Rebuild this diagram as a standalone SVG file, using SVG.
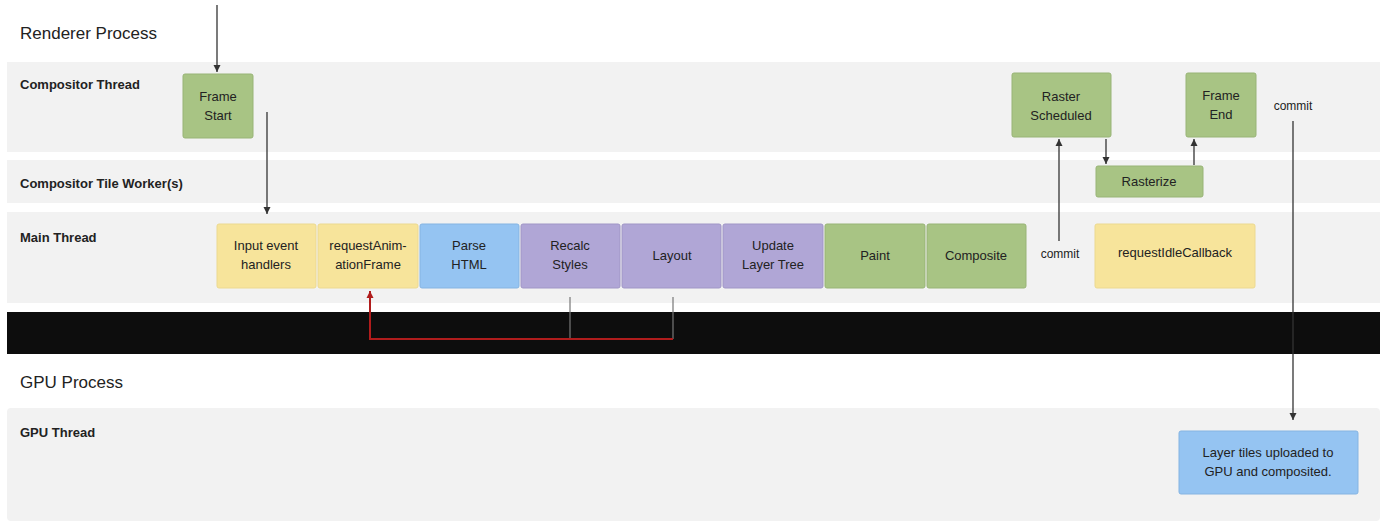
<svg xmlns="http://www.w3.org/2000/svg" width="1386" height="526" viewBox="0 0 1386 526">
<style>
text{font-family:"Liberation Sans",Arial,sans-serif;fill:#222}
.band{fill:#f2f2f2}
.lbl{font-size:13px;font-weight:bold}
.t{font-size:13px;text-anchor:middle}
.g{fill:#a8c484;stroke:#98b476}
.y{fill:#f7e49b;stroke:#ecd990}
.b{fill:#95c4f2;stroke:#85b4e2}
.p{fill:#b0a6d6;stroke:#a096c6}
.c{stroke:#333;stroke-width:1.3;fill:none}
</style>
<defs>
<marker id="a" viewBox="0 0 10 10" refX="10" refY="5" markerWidth="7" markerHeight="10" markerUnits="userSpaceOnUse" orient="auto"><path d="M0,0L10,5L0,10z" fill="#333"/></marker>
<marker id="r" viewBox="0 0 10 10" refX="10" refY="5" markerWidth="7" markerHeight="10" markerUnits="userSpaceOnUse" orient="auto"><path d="M0,0L10,5L0,10z" fill="#b01c1c"/></marker>
</defs>
<rect width="1386" height="526" fill="#fff"/>
<rect class="band" x="7" y="62" width="1373" height="90"/>
<rect class="band" x="7" y="160" width="1373" height="43"/>
<rect class="band" x="7" y="212" width="1373" height="91"/>
<rect x="7" y="312" width="1373" height="42" fill="#0d0d0d"/>
<rect class="band" x="7" y="408" width="1373" height="113" rx="4"/>
<text x="20" y="39" font-size="17">Renderer Process</text>
<text x="20" y="388" font-size="17">GPU Process</text>
<text class="lbl" x="20" y="89">Compositor Thread</text>
<text class="lbl" x="20" y="188">Compositor Tile Worker(s)</text>
<text class="lbl" x="20" y="242">Main Thread</text>
<text class="lbl" x="20" y="437">GPU Thread</text>
<g id="frame-start"><rect class="g" x="183" y="74" width="70" height="64" rx="2"/><text class="t" x="218" y="101">Frame</text><text class="t" x="218" y="120">Start</text></g>
<g id="input"><rect class="y" x="217" y="224" width="99" height="64" rx="2"/><text class="t" x="266" y="250">Input event</text><text class="t" x="266" y="269">handlers</text></g>
<g id="raf"><rect class="y" x="318" y="224" width="100" height="64" rx="2"/><text class="t" x="368" y="250">requestAnim-</text><text class="t" x="368" y="269">ationFrame</text></g>
<g id="parse"><rect class="b" x="420" y="224" width="99" height="64" rx="2"/><text class="t" x="469" y="250">Parse</text><text class="t" x="469" y="269">HTML</text></g>
<g id="recalc"><rect class="p" x="521" y="224" width="99" height="64" rx="2"/><text class="t" x="570" y="250">Recalc</text><text class="t" x="570" y="269">Styles</text></g>
<g id="layout"><rect class="p" x="622" y="224" width="99" height="64" rx="2"/><text class="t" x="672" y="260">Layout</text></g>
<g id="update"><rect class="p" x="723" y="224" width="100" height="64" rx="2"/><text class="t" x="773" y="250">Update</text><text class="t" x="773" y="269">Layer Tree</text></g>
<g id="paint"><rect class="g" x="825" y="224" width="100" height="64" rx="2"/><text class="t" x="875" y="260">Paint</text></g>
<g id="composite"><rect class="g" x="927" y="224" width="99" height="64" rx="2"/><text class="t" x="976" y="260">Composite</text></g>
<g id="ric"><rect class="y" x="1095" y="224" width="160" height="64" rx="2"/><text class="t" x="1175" y="257">requestIdleCallback</text></g>
<g id="raster-sched"><rect class="g" x="1012" y="73" width="99" height="64" rx="2"/><text class="t" x="1061" y="101">Raster</text><text class="t" x="1061" y="120">Scheduled</text></g>
<g id="frame-end"><rect class="g" x="1186" y="73" width="70" height="64" rx="2"/><text class="t" x="1221" y="100">Frame</text><text class="t" x="1221" y="119">End</text></g>
<g id="rasterize"><rect class="g" x="1096" y="166" width="107" height="31" rx="2"/><text class="t" x="1149" y="186">Rasterize</text></g>
<g id="gpu"><rect class="b" x="1179" y="431" width="179" height="63" rx="2"/><text class="t" x="1268" y="457">Layer tiles uploaded to</text><text class="t" x="1268" y="476">GPU and composited.</text></g>
<text x="1060" y="258" font-size="12" text-anchor="middle">commit</text>
<text x="1293" y="110" font-size="12" text-anchor="middle">commit</text>
<g id="connectors">
<path class="c" d="M217,5V72" marker-end="url(#a)"/>
<path class="c" d="M267,112V214" marker-end="url(#a)"/>
<path class="c" d="M1059,241V139" marker-end="url(#a)"/>
<path class="c" d="M1106,139V164" marker-end="url(#a)"/>
<path class="c" d="M1194,165V139" marker-end="url(#a)"/>
<path class="c" d="M1293,121V420" marker-end="url(#a)"/>
<path d="M570,297V339M673,297V339" stroke="#777" stroke-width="1.2" fill="none"/>
<path d="M673,339H370V291" stroke="#b01c1c" stroke-width="2" fill="none" marker-end="url(#r)"/>
</g>
</svg>
